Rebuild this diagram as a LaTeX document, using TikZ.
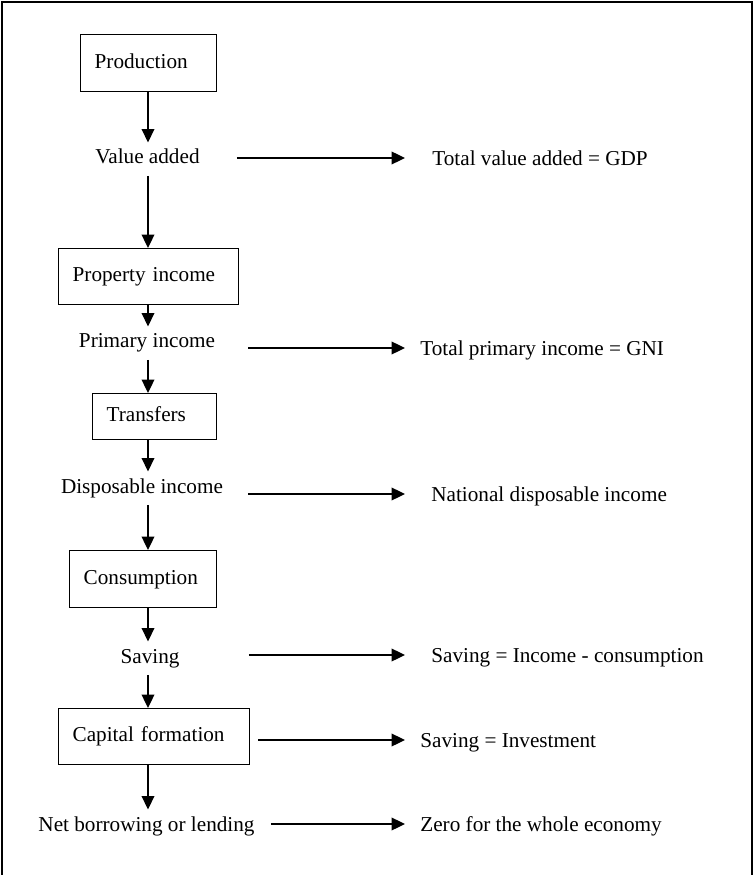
\documentclass[tikz,border=0pt]{standalone}
\usepackage{fontspec}
\setmainfont{Liberation Serif}
\usetikzlibrary{arrows.meta}
\newdimen\px \px=0.566pt

\begin{document}
\begin{tikzpicture}[x=0.566pt,y=-0.566pt,>={Triangle[length=7.6pt,width=7.2pt]},
  every node/.style={font=\fontsize{12pt}{14pt}\selectfont,text height=8pt,text depth=2.5pt},
  stage/.style={draw,line width=0.75pt,align=left,inner xsep=14\px,inner ysep=0pt,anchor=north west},
  flowtext/.style={inner xsep=0pt,inner ysep=4pt,anchor=base},
  result/.style={inner sep=0pt,anchor=west,text depth=0pt},
  flow/.style={->,line width=0.75pt}]
\useasboundingbox(0,0)rectangle(754,875);
\draw[line width=0.85pt](2,875)--(2,2)--(752,2)--(752,875);
\coordinate(spine)at(148,0);
% left column: stages and what they give
\node[stage,text width=108\px,minimum height=57\px](prod)at(80,34){Production};
\node[flowtext](va)at(147.5,164){Value added};
\node[stage,text width=152\px,minimum height=56\px](prop)at(58,248){Property income};
\node[flowtext](pi)at(147,348){Primary income};
\node[stage,text width=96\px,minimum height=46\px](trans)at(92,393){Transfers};
\node[flowtext](di)at(142,493){Disposable income};
\node[stage,text width=119\px,minimum height=57\px](cons)at(69,550){Consumption};
\node[flowtext](sav)at(150,663){Saving};
\node[stage,text width=163\px,minimum height=56\px](capf)at(58,708){Capital formation};
\node[flowtext](nbl)at(146.5,831){Net borrowing or lending};
% right column
\node[result](gdp)at(432,158){Total value added = GDP};
\node[result](gni)at(420,348){Total primary income = GNI};
\node[result](ndi)at(431,494){National disposable income};
\node[result](sie)at(431,655){Saving = Income - consumption};
\node[result](sin)at(420,740){Saving = Investment};
\node[result](zero)at(420,824){Zero for the whole economy};
\foreach \a/\b in {prod/va,va/prop,prop/pi,pi/trans,trans/di,di/cons,cons/sav,sav/capf,capf/nbl}
  \draw[flow](\a.south -| spine)--(\b.north -| spine);
\foreach \a/\b/\s/\e in {va/gdp/37/27,pi/gni/33/15,di/ndi/25/26,sav/sie/69/26,capf/sin/8/15,nbl/zero/16/15}
  \draw[flow,shorten <=\s\px,shorten >=\e\px](\a.east |- \b.west)--(\b.west);
\end{tikzpicture}
\end{document}
